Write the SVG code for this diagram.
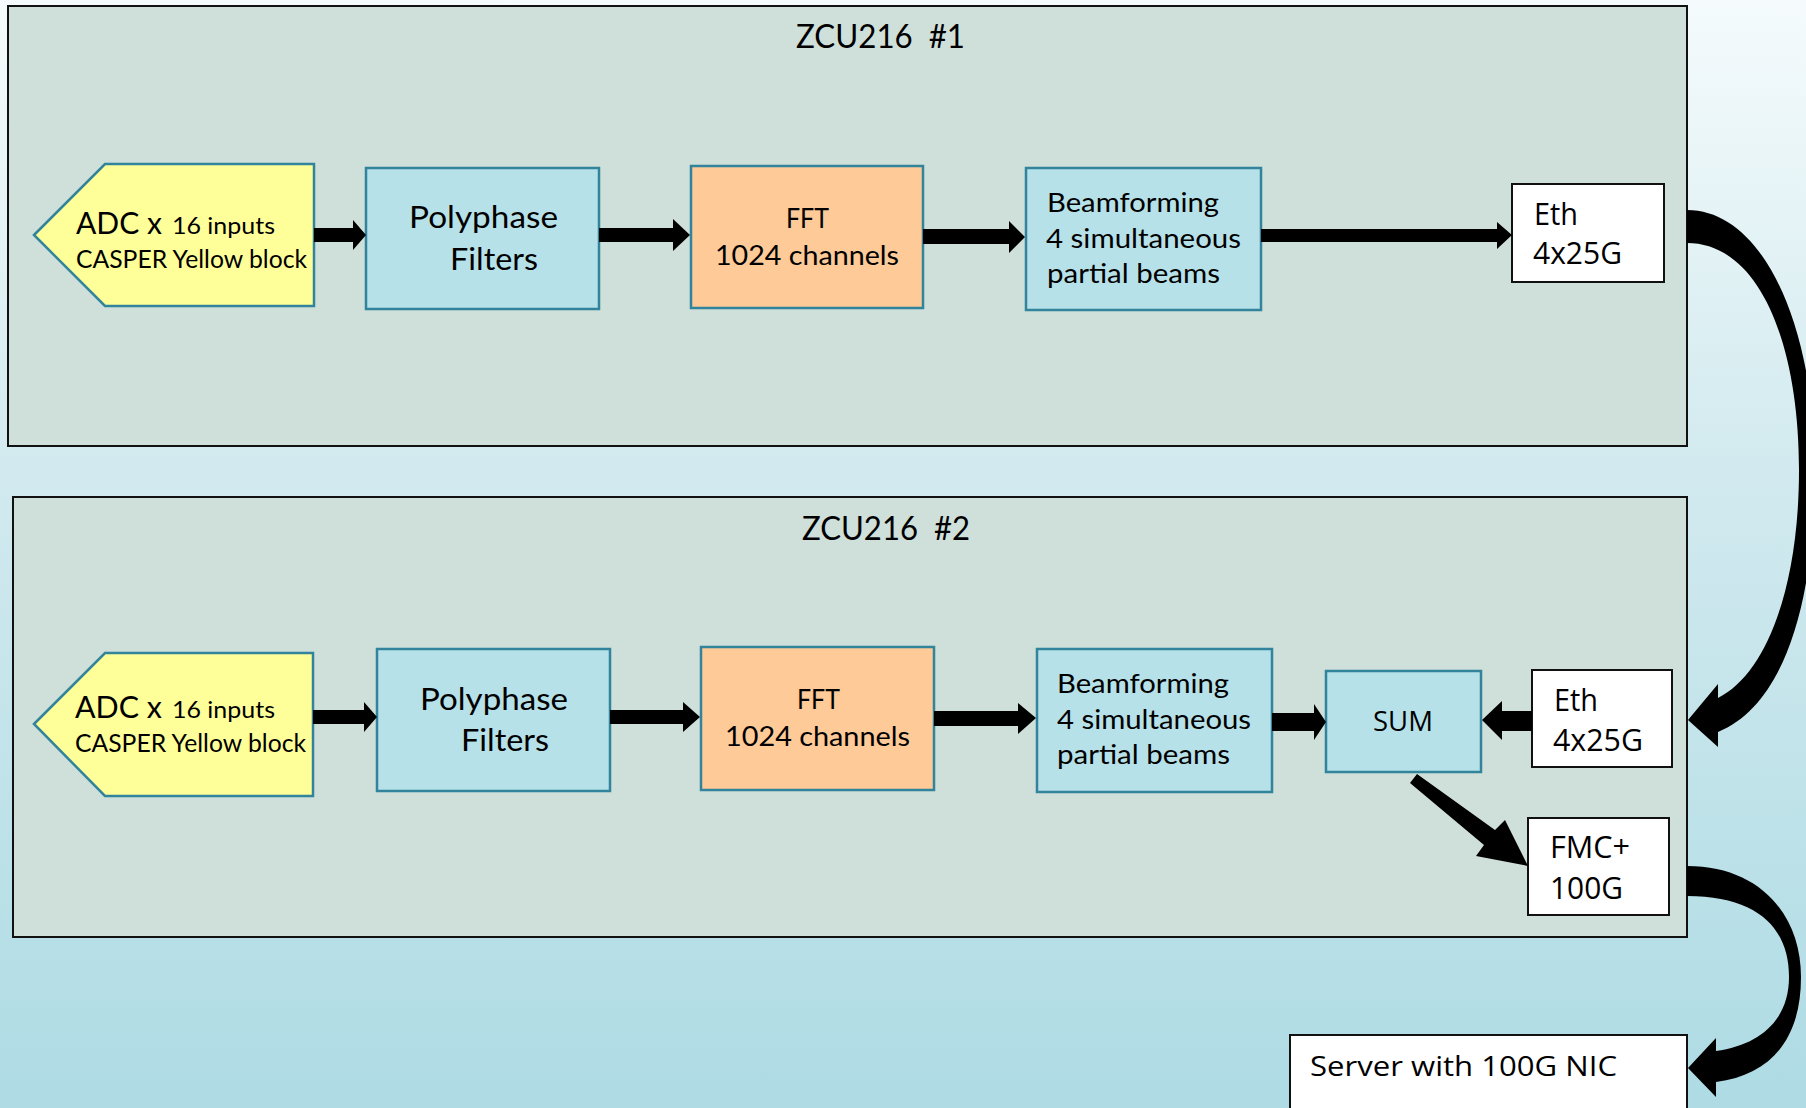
<svg xmlns="http://www.w3.org/2000/svg" width="1806" height="1108" viewBox="0 0 1806 1108">
<defs>
<linearGradient id="bg" x1="0" y1="0" x2="0" y2="1">
<stop offset="0" stop-color="#f5fbfc"/>
<stop offset="0.42" stop-color="#d2eaef"/>
<stop offset="1" stop-color="#aedbe4"/>
</linearGradient>
</defs>
<style>
.board{fill:#cfdfd9;stroke:#111;stroke-width:2}
.blue{fill:#b7e1e8;stroke:#31849b;stroke-width:2.5}
.peach{fill:#fdca98;stroke:#31849b;stroke-width:2.5}
.yellow{fill:#ffff99;stroke:#31849b;stroke-width:2.5}
.port{fill:#fff;stroke:#111;stroke-width:2}
.c{font-family:Lato,"Liberation Sans",sans-serif;fill:#000}
.s{font-family:"Open Sans","Liberation Sans",sans-serif;fill:#000}
.arrow{fill:#000}
</style>
<rect x="0" y="0" width="1806" height="1108" fill="url(#bg)"/>

<g id="board1">
<rect class="board" x="8" y="6" width="1679" height="440"/>
<text class="c" x="796" y="48" font-size="32" textLength="169" lengthAdjust="spacingAndGlyphs" xml:space="preserve">ZCU216  #1</text>
</g>
<g id="board2">
<rect class="board" x="13" y="497" width="1674" height="440"/>
<text class="c" x="802" y="540" font-size="32" textLength="168" lengthAdjust="spacingAndGlyphs" xml:space="preserve">ZCU216  #2</text>
</g>

<g id="adc1">
<polygon class="yellow" points="34,235 105,164 314,164 314,306 105,306"/>
<text class="c" x="76" y="234" font-size="31" textLength="86" lengthAdjust="spacingAndGlyphs">ADC x</text>
<text class="c" x="172" y="234" font-size="24" textLength="103" lengthAdjust="spacingAndGlyphs">16 inputs</text>
<text class="c" x="76" y="268" font-size="24.5" textLength="231" lengthAdjust="spacingAndGlyphs">CASPER Yellow block</text>
</g>
<g id="pfb1">
<rect class="blue" x="366" y="168" width="233" height="141"/>
<text class="c" x="409" y="228" font-size="31" textLength="149" lengthAdjust="spacingAndGlyphs">Polyphase</text>
<text class="c" x="450" y="270" font-size="31" textLength="88" lengthAdjust="spacingAndGlyphs">Filters</text>
</g>
<g id="fft1">
<rect class="peach" x="691" y="166" width="232" height="142"/>
<text class="c" x="786" y="228" font-size="26" textLength="43" lengthAdjust="spacingAndGlyphs">FFT</text>
<text class="c" x="715" y="265" font-size="26" textLength="184" lengthAdjust="spacingAndGlyphs">1024 channels</text>
</g>
<g id="beam1">
<rect class="blue" x="1026" y="168" width="235" height="142"/>
<text class="c" x="1047" y="212" font-size="26.5" textLength="172" lengthAdjust="spacingAndGlyphs">Beamforming</text>
<text class="c" x="1046" y="248" font-size="26.5" textLength="195" lengthAdjust="spacingAndGlyphs">4 simultaneous</text>
<text class="c" x="1047" y="283" font-size="26.5" textLength="173" lengthAdjust="spacingAndGlyphs">partial beams</text>
</g>
<g id="eth1">
<rect class="port" x="1512" y="184" width="152" height="98"/>
<text class="s" x="1534" y="225" font-size="31" textLength="44" lengthAdjust="spacingAndGlyphs">Eth</text>
<text class="s" x="1533" y="264" font-size="31" textLength="89" lengthAdjust="spacingAndGlyphs">4x25G</text>
</g>

<g id="adc2">
<polygon class="yellow" points="34,724 105,653 313,653 313,796 105,796"/>
<text class="c" x="75" y="718" font-size="31" textLength="87" lengthAdjust="spacingAndGlyphs">ADC x</text>
<text class="c" x="172" y="718" font-size="24" textLength="103" lengthAdjust="spacingAndGlyphs">16 inputs</text>
<text class="c" x="75" y="752" font-size="24.5" textLength="231" lengthAdjust="spacingAndGlyphs">CASPER Yellow block</text>
</g>
<g id="pfb2">
<rect class="blue" x="377" y="649" width="233" height="142"/>
<text class="c" x="420" y="710" font-size="31" textLength="148" lengthAdjust="spacingAndGlyphs">Polyphase</text>
<text class="c" x="461" y="751" font-size="31" textLength="88" lengthAdjust="spacingAndGlyphs">Filters</text>
</g>
<g id="fft2">
<rect class="peach" x="701" y="647" width="233" height="143"/>
<text class="c" x="797" y="709" font-size="26" textLength="43" lengthAdjust="spacingAndGlyphs">FFT</text>
<text class="c" x="725" y="746" font-size="26" textLength="185" lengthAdjust="spacingAndGlyphs">1024 channels</text>
</g>
<g id="beam2">
<rect class="blue" x="1037" y="649" width="235" height="143"/>
<text class="c" x="1057" y="693" font-size="26.5" textLength="172" lengthAdjust="spacingAndGlyphs">Beamforming</text>
<text class="c" x="1057" y="729" font-size="26.5" textLength="194" lengthAdjust="spacingAndGlyphs">4 simultaneous</text>
<text class="c" x="1057" y="764" font-size="26.5" textLength="173" lengthAdjust="spacingAndGlyphs">partial beams</text>
</g>
<g id="sum">
<rect class="blue" x="1326" y="671" width="155" height="101"/>
<text class="s" x="1373" y="731" font-size="27" textLength="60" lengthAdjust="spacingAndGlyphs">SUM</text>
</g>
<g id="eth2">
<rect class="port" x="1532" y="670" width="140" height="97"/>
<text class="s" x="1554" y="711" font-size="31" textLength="44" lengthAdjust="spacingAndGlyphs">Eth</text>
<text class="s" x="1553" y="751" font-size="31" textLength="90" lengthAdjust="spacingAndGlyphs">4x25G</text>
</g>
<g id="fmc">
<rect class="port" x="1528" y="818" width="141" height="97"/>
<text class="s" x="1550" y="858" font-size="31" textLength="80" lengthAdjust="spacingAndGlyphs">FMC+</text>
<text class="s" x="1550" y="899" font-size="31" textLength="73" lengthAdjust="spacingAndGlyphs">100G</text>
</g>
<g id="server">
<rect class="port" x="1290" y="1035" width="397" height="100"/>
<text class="s" x="1310" y="1076" font-size="28" textLength="307" lengthAdjust="spacingAndGlyphs">Server with 100G NIC</text>
</g>

<g id="connectors">
<polygon class="arrow" points="314,228 353,228 353,220 366,235 353,250 353,242 314,242"/>
<polygon class="arrow" points="599,228 673,228 673,219 690,235 673,251 673,242 599,242"/>
<polygon class="arrow" points="923,229 1009,229 1009,221 1025,237 1009,253 1009,244 923,244"/>
<polygon class="arrow" points="1261,229 1497,229 1497,222 1512,235 1497,249 1497,242 1261,242"/>
<polygon class="arrow" points="313,710 364,710 364,702 377,717 364,732 364,724 313,724"/>
<polygon class="arrow" points="610,710 683,710 683,702 700,717 683,732 683,724 610,724"/>
<polygon class="arrow" points="934,711 1018,711 1018,703 1036,718 1018,734 1018,726 934,726"/>
<polygon class="arrow" points="1272,713 1314,713 1314,704 1326,722 1314,740 1314,731 1272,731"/>
<polygon class="arrow" points="1532,711 1502,711 1502,701 1482,720 1502,740 1502,731 1532,731"/>
<polygon class="arrow" points="1417,774 1495,830 1505,820 1528,866 1476,856 1484,845 1410,783"/>
<path class="arrow" d="M1687,210 C1765,210 1815,330 1815,470 C1815,600 1785,705 1718,732 L1718,747 L1688,720 L1718,684 L1718,698 C1765,675 1799,590 1799,470 C1799,345 1760,243 1687,243 Z"/>
<path class="arrow" d="M1687,866 C1760,866 1801,915 1801,977 C1801,1040 1770,1075 1716,1082 L1716,1097 L1688,1068 L1716,1038 L1716,1051 C1760,1045 1789,1020 1789,977 C1789,930 1760,896 1687,896 Z"/>
</g>
</svg>
